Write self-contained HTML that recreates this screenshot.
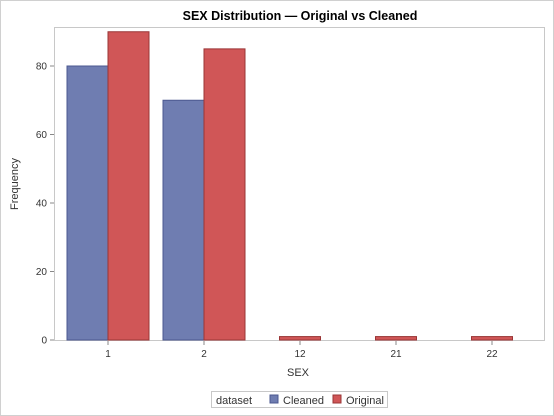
<!DOCTYPE html>
<html><head><meta charset="utf-8"><style>
body{margin:0;background:#fff;font-family:"Liberation Sans",sans-serif}
svg{display:block}
</style></head><body>
<svg id="c" width="554" height="416">
<rect x="0.5" y="0.5" width="553" height="415" fill="#fff" stroke="#d0d0d0"/>
<text x="300" y="20" text-anchor="middle" font-size="12.5" font-weight="bold" fill="#000">SEX Distribution — Original vs Cleaned</text>
<rect x="54.5" y="27.5" width="490" height="313" fill="#fff" stroke="#c8c8c8"/>
<g id="bars"></g><g id="axes"></g>
<text x="298" y="376" text-anchor="middle" font-size="11" fill="#333">SEX</text>
<text transform="translate(18,184) rotate(-90)" text-anchor="middle" font-size="11" fill="#333">Frequency</text>
<g>
<rect x="211.5" y="391.5" width="176" height="16" fill="#fff" stroke="#c8c8c8"/>
<text x="216" y="404" font-size="11" fill="#333">dataset</text>
<rect x="270" y="395" width="8" height="8" fill="#6f7db1" stroke="#4b5890"/>
<text x="283" y="404" font-size="11" fill="#333">Cleaned</text>
<rect x="333" y="395" width="8" height="8" fill="#d05657" stroke="#9a3536"/>
<text x="346" y="404" font-size="11" fill="#333">Original</text>
</g>
</svg>
<script>
const categories=["1","2","12","21","22"];
const cleaned=[80,70,0,0,0];
const original=[90,85,1,1,1];
const yTicks=[0,20,40,60,80];
const NS="http://www.w3.org/2000/svg";
const x0=60,step=96,bw=41;
function xC(i){return x0+step*(i+0.5);}
function y(v){return 340-v*3.425;}
function mk(tag,attrs,parent){const e=document.createElementNS(NS,tag);for(const k in attrs)e.setAttribute(k,attrs[k]);parent.appendChild(e);return e;}
const bars=document.getElementById('bars'),axes=document.getElementById('axes');
categories.forEach((c,i)=>{
  const hasC=cleaned[i]>0;
  const cx=xC(i);
  if(hasC){
    const r=mk('rect',{x:cx-bw,y:y(cleaned[i]),width:bw,height:340-y(cleaned[i]),fill:'#6f7db1',stroke:'#4b5890','stroke-width':1},bars);
    
    
  }
  const ox=hasC?cx:cx-bw/2;
  const r2=mk('rect',{x:ox,y:y(original[i]),width:bw,height:340-y(original[i]),fill:'#d05657',stroke:'#9a3536','stroke-width':1},bars);
  
  
  mk('line',{x1:cx,x2:cx,y1:341,y2:345,stroke:'#888'},axes);
  const t=mk('text',{x:cx,y:357,'text-anchor':'middle','font-size':10,fill:'#333'},axes);
  t.textContent=c;
  
  
});
yTicks.forEach(v=>{
  mk('line',{x1:50,x2:54,y1:y(v),y2:y(v),stroke:'#888'},axes);
  const t=mk('text',{x:47,y:y(v)+3.5,'text-anchor':'end','font-size':10,fill:'#333'},axes);
  t.textContent=v;
  
  
});
</script>
</body></html>
